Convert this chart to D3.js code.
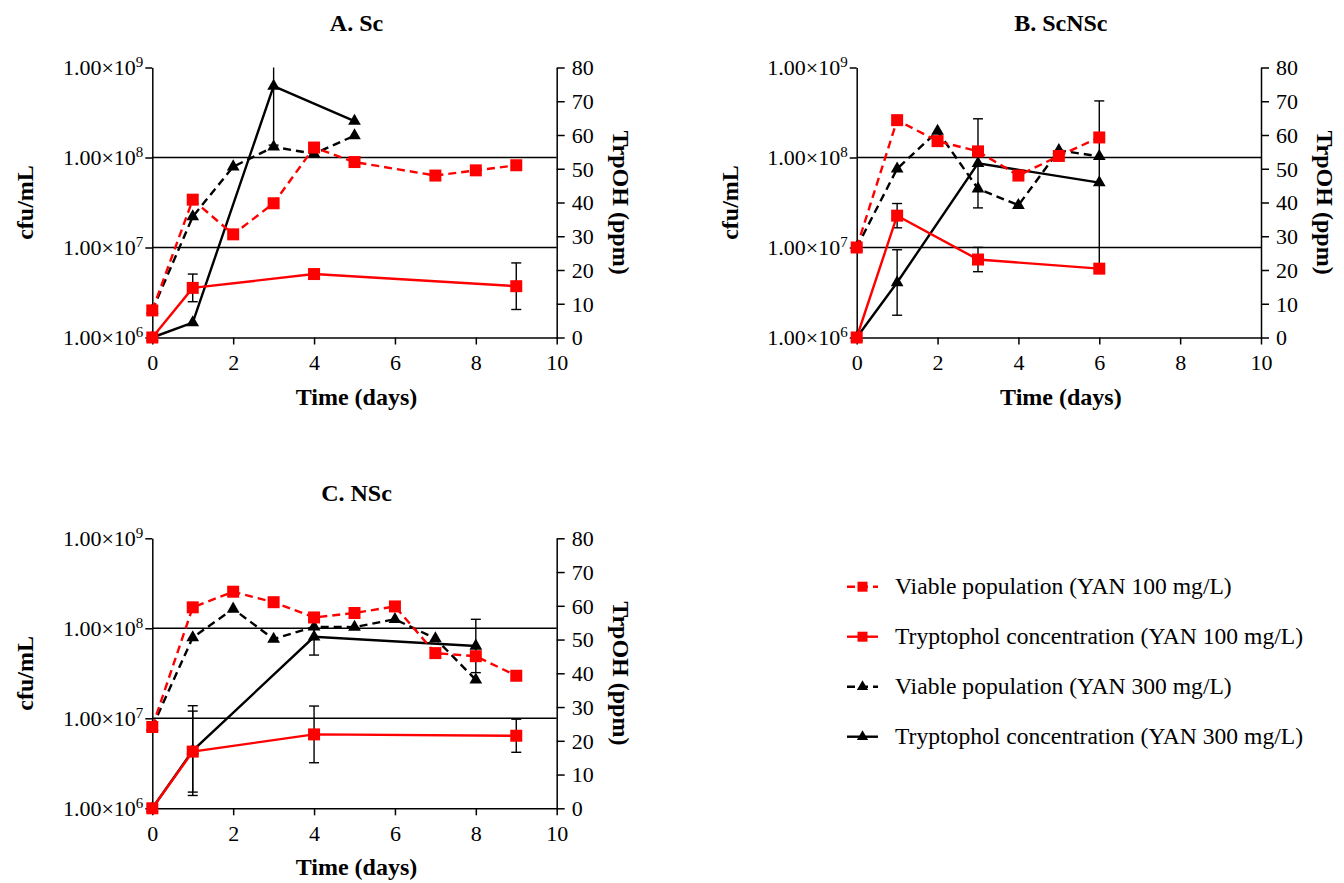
<!DOCTYPE html>
<html><head><meta charset="utf-8">
<script src="https://cdn.jsdelivr.net/npm/d3@7"></script>
<style>
body{margin:0;background:#fff}
svg{display:block}
text{font-family:"Liberation Serif","DejaVu Serif","Times New Roman",serif;fill:#000}
</style>
</head><body>
<svg id="c" width="1344" height="883"></svg>
<script>
// ---------- data ----------
const panelTitles = ["A. Sc", "B. ScNSc", "C. NSc"];
const xTicks = [0, 2, 4, 6, 8, 10];
const leftTicks = [1e6, 1e7, 1e8, 1e9];
const rightTicks = [0, 10, 20, 30, 40, 50, 60, 70, 80];
const legendLabels = [
  "Viable population (YAN 100 mg/L)",
  "Tryptophol concentration (YAN 100 mg/L)",
  "Viable population (YAN 300 mg/L)",
  "Tryptophol concentration (YAN 300 mg/L)"
];
const xLabel = "Time (days)";
const leftLabel = "cfu/mL";
const rightLabel = "TrpOH (ppm)";

// Panel A (Sc)
const A_viable100 = [[0,2.0e6],[1,3.4e7],[2,1.4e7],[3,3.1e7],[4,1.29e8],[5,8.9e7],[7,6.3e7],[8,7.2e7],[9,8.2e7]];
const A_trp100 = [[0,0],[1,14.7],[4,18.8],[9,15.2]];
const A_trp100_err = [[1,4.1],[9,6.9]];
const A_viable300 = [[0,2.0e6],[1,2.2e7],[2,7.9e7],[3,1.31e8],[4,1.1e8],[5,1.75e8]];
const A_trp300 = [[0,0],[1,4.4],[3,74.5],[5,64.1]];
const A_trp300_err = [[3,17.5]];

// Panel B (ScNSc)
const B_viable100 = [[0,1.0e7],[1,2.6e8],[2,1.52e8],[3,1.17e8],[4,6.3e7],[5,1.04e8],[6,1.67e8]];
const B_trp100 = [[0,0],[1,36.1],[3,23.1],[6,20.4]];
const B_trp100_err = [[1,3.6],[3,3.6]];
const B_viable300 = [[0,1.0e7],[1,7.5e7],[2,1.96e8],[3,4.5e7],[4,2.95e7],[5,1.2e8],[6,1.03e8]];
const B_trp300 = [[0,0],[1,16.3],[3,51.6],[6,45.9]];
const B_trp300_err = [[1,9.7],[3,13.2],[6,24.2]];

// Panel C (NSc)
const C_viable100 = [[0,8.0e6],[1,1.71e8],[2,2.55e8],[3,1.95e8],[4,1.32e8],[5,1.48e8],[6,1.75e8],[7,5.3e7],[8,4.9e7],[9,2.97e7]];
const C_trp100 = [[0,0],[1,16.8],[4,21.9],[9,21.5]];
const C_trp100_err = [[1,12.0],[4,8.4],[9,4.9]];
const C_viable300 = [[0,8.0e6],[1,7.9e7],[2,1.64e8],[3,7.6e7],[4,1.04e8],[5,1.03e8],[6,1.26e8],[7,7.7e7],[8,2.67e7]];
const C_trp300 = [[0,0],[1,17.1],[4,50.8],[8,48.1]];
const C_trp300_err = [[1,13.3],[4,5.4],[8,7.9]];

// ---------- drawing ----------
const RED = "#ff0000", BLK = "#000000";
const FONT = '"Liberation Serif","DejaVu Serif",serif';
const svg = d3.select("#c");

const panels = [
  {title: panelTitles[0], box: {l:152.3, r:556.7, t:67.5, b:337.5},
   v100: A_viable100, t100: A_trp100, e100: A_trp100_err, v300: A_viable300, t300: A_trp300, e300: A_trp300_err},
  {title: panelTitles[1], box: {l:856.7, r:1261, t:67.5, b:337.5},
   v100: B_viable100, t100: B_trp100, e100: B_trp100_err, v300: B_viable300, t300: B_trp300, e300: B_trp300_err},
  {title: panelTitles[2], box: {l:152.3, r:556.7, t:538.3, b:808.3},
   v100: C_viable100, t100: C_trp100, e100: C_trp100_err, v300: C_viable300, t300: C_trp300, e300: C_trp300_err}
];

const sq = d3.symbol().type(d3.symbolSquare).size(144);
const tri = d3.symbol().type(d3.symbolTriangle).size(70);

function supLabel(sel, exp) {
  sel.text(null);
  sel.append("tspan").text("1.00\u00d710");
  sel.append("tspan").attr("dy", -8).attr("font-size", 15).text(exp);
}

panels.forEach(p => {
  const B = p.box;
  const g = svg.append("g");
  const x = d3.scaleLinear().domain([0, 10]).range([B.l, B.r]);
  const yL = d3.scaleLog().domain([1e6, 1e9]).range([B.b, B.t]);
  const yR = d3.scaleLinear().domain([0, 80]).range([B.b, B.t]);

  // gridlines at interior decades
  g.selectAll(".grid").data(leftTicks.filter(v => v > 1e6 && v < 1e9)).join("line")
    .attr("x1", B.l).attr("x2", B.r).attr("y1", d => yL(d)).attr("y2", d => yL(d))
    .attr("stroke", BLK).attr("stroke-width", 1.5);

  const xa = g.append("g").attr("transform", `translate(0,${B.b})`)
    .call(d3.axisBottom(x).tickValues(xTicks).tickSize(7).tickSizeOuter(0).tickPadding(6));
  const la = g.append("g").attr("transform", `translate(${B.l},0)`)
    .call(d3.axisLeft(yL).tickValues(leftTicks).tickSize(7).tickSizeOuter(0).tickPadding(2));
  la.selectAll(".tick text").each(function(d){ supLabel(d3.select(this), Math.round(Math.log10(d))); });
  const ra = g.append("g").attr("transform", `translate(${B.r},0)`)
    .call(d3.axisRight(yR).tickValues(rightTicks).tickSize(8).tickSizeOuter(0).tickPadding(7));

  [xa, la, ra].forEach(a => {
    a.attr("font-family", FONT);
    a.selectAll("path").attr("stroke", BLK).attr("stroke-width", 1.5);
    a.selectAll("line").attr("stroke", BLK).attr("stroke-width", 1.5);
    a.selectAll("text").attr("font-size", 22).attr("font-family", FONT).attr("fill", BLK);
  });
  la.selectAll("tspan:last-child").attr("font-size", 15);
  xa.selectAll(".tick text").attr("dy", "0.9em");
  la.selectAll(".tick text").attr("dy", "0.33em");
  ra.selectAll(".tick text").attr("dy", "0.33em");

  const cx = (B.l + B.r) / 2 + 2, cy = (B.t + B.b) / 2;
  g.append("text").attr("x", cx).attr("y", B.t - 37).attr("text-anchor", "middle")
    .attr("font-size", 24).attr("font-weight", "bold").text(p.title);
  g.append("text").attr("x", cx).attr("y", B.b + 67).attr("text-anchor", "middle")
    .attr("font-size", 24).attr("font-weight", "bold").text(xLabel);
  g.append("text").attr("transform", `translate(${B.l - 119},${cy}) rotate(-90)`).attr("text-anchor", "middle")
    .attr("font-size", 24).attr("font-weight", "bold").text(leftLabel);
  g.append("text").attr("transform", `translate(${B.r + 56},${cy}) rotate(90)`).attr("text-anchor", "middle")
    .attr("font-size", 24).attr("font-weight", "bold").text(rightLabel);

  const lineL = d3.line().x(d => x(d[0])).y(d => yL(d[1]));
  const lineR = d3.line().x(d => x(d[0])).y(d => yR(d[1]));

  function errBars(data, vals) {
    const lookup = new Map(data.map(d => [d[0], d[1]]));
    const eg = g.append("g").attr("stroke", BLK).attr("stroke-width", 1.4);
    vals.forEach(([day, e]) => {
      const v = lookup.get(day);
      const hi = Math.min(80, v + e), lo = Math.max(0, v - e);
      const xx = x(day);
      eg.append("line").attr("x1", xx).attr("x2", xx).attr("y1", yR(hi)).attr("y2", yR(lo));
      if (v + e <= 80) eg.append("line").attr("x1", xx - 5).attr("x2", xx + 5).attr("y1", yR(hi)).attr("y2", yR(hi));
      eg.append("line").attr("x1", xx - 5).attr("x2", xx + 5).attr("y1", yR(lo)).attr("y2", yR(lo));
    });
  }

  function series(data, line, yS, color, dashed, sym) {
    g.append("path").datum(data).attr("d", line).attr("fill", "none")
      .attr("stroke", color).attr("stroke-width", 2.4)
      .attr("stroke-dasharray", dashed ? "8,5" : null);
    g.selectAll(null).data(data).join("path")
      .attr("transform", d => `translate(${x(d[0])},${yS(d[1])})`)
      .attr("d", sym).attr("fill", color);
  }

  errBars(p.t300, p.e300);
  series(p.v300, lineL, yL, BLK, true, tri);
  series(p.t300, lineR, yR, BLK, false, tri);
  errBars(p.t100, p.e100);
  series(p.v100, lineL, yL, RED, true, sq);
  series(p.t100, lineR, yR, RED, false, sq);
});

// legend
const legYs = [586.7, 636.7, 686.7, 736.7];
const legColors = [RED, RED, BLK, BLK];
const legDash = [true, false, true, false];
const lg = svg.append("g");
legendLabels.forEach((lab, i) => {
  const y = legYs[i];
  lg.append("line").attr("x1", 847).attr("x2", 878).attr("y1", y).attr("y2", y)
    .attr("stroke", legColors[i]).attr("stroke-width", 2.4)
    .attr("stroke-dasharray", legDash[i] ? "8,5" : null);
  lg.append("path").attr("transform", `translate(862.5,${y})`)
    .attr("d", i < 2 ? d3.symbol().type(d3.symbolSquare).size(100)() : d3.symbol().type(d3.symbolTriangle).size(55)())
    .attr("fill", legColors[i]);
  lg.append("text").attr("x", 895).attr("y", y).attr("dy", "0.33em")
    .attr("font-size", 23.6).text(lab);
});
</script>
</body></html>
